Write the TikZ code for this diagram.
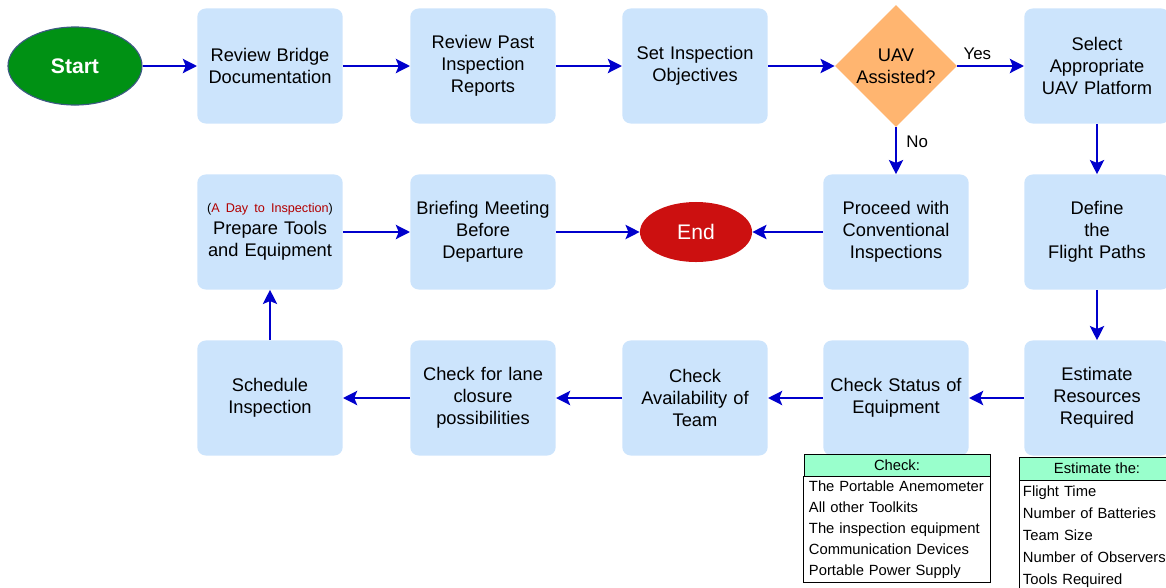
\documentclass[tikz,border=0pt]{standalone}
\usepackage{fontspec}
\setmainfont{Liberation Sans}
\usepackage{tikz}
\usetikzlibrary{arrows,arrows.meta,shapes,positioning}
\usepackage{xcolor}
\definecolor{fcblue}{RGB}{0,0,204}
\definecolor{fcbox}{RGB}{204,228,252}
\definecolor{fcorange}{RGB}{255,181,112}
\definecolor{fcgreen}{RGB}{0,145,20}
\definecolor{fcgreenline}{RGB}{60,90,130}
\definecolor{fcred}{RGB}{204,16,16}
\definecolor{fcdarkred}{RGB}{178,0,0}
\definecolor{fcmint}{RGB}{153,255,204}
\tikzstyle{arrow} = [line width=2pt,->,>={Stealth[length=10pt,width=10pt,inset=2pt]},color=fcblue]
\tikzstyle{stepbox} = [rectangle, rounded corners=6pt, minimum width=3.6cm, minimum height=2.875cm, text width=3.4cm, align=center, fill=fcbox, font=\fontsize{13}{15.6}\selectfont]
\tikzstyle{decision} = [diamond, minimum width=3.05cm, minimum height=3.05cm, inner sep=0pt, align=center, fill=fcorange, font=\fontsize{13}{15.6}\selectfont]
\tikzstyle{terminal} = [ellipse, minimum width=3.35cm, minimum height=1.95cm, text=white, font=\fontsize{15}{18}\selectfont]
\tikzstyle{tablehead} = [rectangle, draw=black, fill=fcmint, inner sep=0pt, font=\fontsize{10.5}{14.9}\selectfont]
\tikzstyle{tablebody} = [rectangle, draw=black, fill=white, inner sep=0pt, align=left, font=\fontsize{10.5}{14.9}\selectfont]
\tikzstyle{edgelabel} = [text=black, font=\fontsize{12}{14}\selectfont]

\begin{document}
\begin{tikzpicture}[x=0.025cm, y=-0.025cm]
\useasboundingbox (0,0) rectangle (1166,587);
% first row
\node[terminal, fill=fcgreen, draw=fcgreenline, thick, font=\fontsize{15}{18}\selectfont\bfseries] (start) at (75,66) {Start};
\node[stepbox] (review) at (270,66) {Review Bridge\\Documentation};
\node[stepbox] (past) at (483,66) {Review Past\\Inspection\\Reports};
\node[stepbox] (objectives) at (695,66) {Set Inspection\\Objectives};
\node[decision] (uav) at (896,66) {UAV\\Assisted?};
\node[stepbox] (platform) at (1097,66) {Select\\Appropriate\\UAV Platform};

% second row
\node[stepbox] (prepare) at (270,232) {\mbox{\fontsize{9}{11}\selectfont(\textcolor{fcdarkred}{A Day to Inspection})}\\Prepare Tools\\and Equipment};
\node[stepbox] (briefing) at (483,232) {Briefing Meeting\\Before\\Departure};
\node[terminal, fill=fcred, minimum width=2.8cm, minimum height=1.5cm] (end) at (696,232) {End};
\node[stepbox] (conventional) at (896,232) {Proceed with\\Conventional\\Inspections};
\node[stepbox] (paths) at (1097,232) {Define\\the\\Flight Paths};

% third row
\node[stepbox] (schedule) at (270,398) {Schedule\\Inspection};
\node[stepbox] (lane) at (483,398) {Check for lane\\closure\\possibilities};
\node[stepbox] (team) at (695,398) {Check\\Availability of\\Team};
\node[stepbox] (status) at (896,398) {Check Status of\\Equipment};
\node[stepbox] (resources) at (1097,398) {Estimate\\Resources\\Required};

% checklists
\node[tablehead, minimum width=4.65cm, minimum height=0.55cm] (checkhead) at (897,465) {Check:};
\node[tablebody, anchor=north, minimum width=4.65cm, minimum height=2.65cm, text width=4.4cm, inner xsep=4pt] (checklist) at (checkhead.south) {The Portable Anemometer\\All other Toolkits\\The inspection equipment\\Communication Devices\\Portable Power Supply};
\node[tablehead, minimum width=3.9cm, minimum height=0.58cm] (esthead) at (1097,468.5) {Estimate the:};
\node[tablebody, anchor=north, minimum width=3.9cm, minimum height=2.8cm, text width=3.7cm, font=\fontsize{10.5}{15.6}\selectfont] (estlist) at (esthead.south) {Flight Time\\Number of Batteries\\Team Size\\Number of Observers\\Tools Required};

% connections
\draw[arrow] (start) -- (review);
\draw[arrow] (review) -- (past);
\draw[arrow] (past) -- (objectives);
\draw[arrow] (objectives) -- (uav);
\draw[arrow] (uav) -- node[edgelabel, above, pos=0.3] {Yes} (platform);
\draw[arrow] (uav) -- node[edgelabel, right=3pt, pos=0.3] {No} (conventional);
\draw[arrow] (platform) -- (paths);
\draw[arrow] (paths) -- (resources);
\draw[arrow] (resources) -- (status);
\draw[arrow] (status) -- (team);
\draw[arrow] (team) -- (lane);
\draw[arrow] (lane) -- (schedule);
\draw[arrow] (schedule) -- (prepare);
\draw[arrow] (prepare) -- (briefing);
\draw[arrow] (briefing) -- (end);
\draw[arrow] (conventional) -- (end);
\end{tikzpicture}
\end{document}
